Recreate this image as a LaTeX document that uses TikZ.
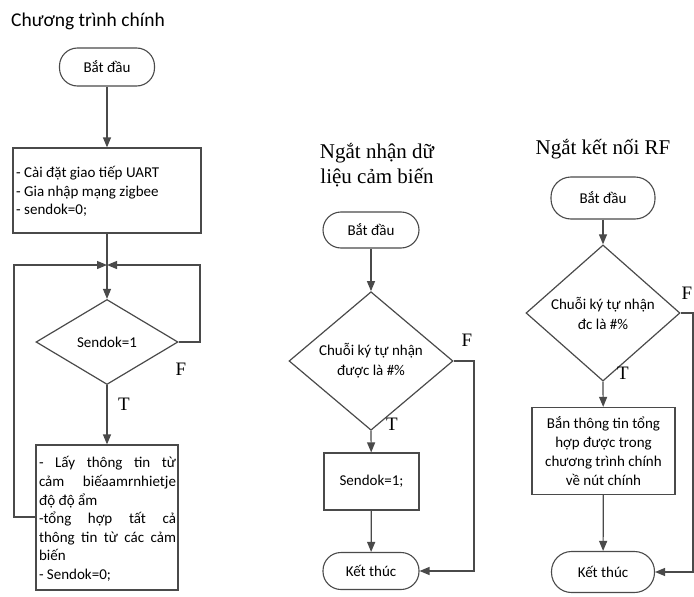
\documentclass[tikz,border=0pt]{standalone}
\usepackage{fontspec}
\setmainfont{Liberation Serif}
\newfontfamily\boxfont{Carlito}
\usetikzlibrary{shapes.geometric,arrows.meta}
\definecolor{ln}{HTML}{4A4A4A}
\tikzset{
  every node/.style={inner sep=0pt},
  line/.style={draw=ln,line width=1.2pt},
  arr/.style={line,-{Triangle[length=10pt,width=8pt]}},
  term/.style={draw=ln,line width=1.1pt,rounded corners=18pt,font=\boxfont\fontsize{15}{18}\selectfont,align=center},
  procbox/.style={draw=ln,line width=1.2pt,font=\boxfont\fontsize{15}{18}\selectfont},
  decision/.style={draw=ln,line width=1.2pt,diamond,font=\boxfont\fontsize{15}{20}\selectfont,align=center},
  title/.style={font=\fontsize{21}{25}\selectfont,align=center},
  tf/.style={font=\fontsize{19}{20}\selectfont}
}
\newcommand{\jline}[1]{\makebox[137pt][s]{#1}}
\begin{document}
\begin{tikzpicture}[x=1pt,y=-1pt]
\useasboundingbox (0,0) rectangle (694,597);
% ---------- main program ----------
\node[anchor=west,font=\boxfont\fontsize{19.5}{22}\selectfont] (t1) at (11,21) {Chương trình chính};
\node[term,minimum width=95pt,minimum height=38pt] (s1) at (107,67) {Bắt đầu};
\node[procbox,minimum width=188pt,minimum height=85pt] (b1) at (107,190.5) {};
\node[anchor=west,align=left,font=\boxfont\fontsize{15}{18.5}\selectfont] (b1t) at (16,191.5) {- Cài đặt giao tiếp UART\\- Gia nhập mạng zigbee\\- sendok=0;};
\coordinate (j) at (107,265);
\node[decision,minimum width=142pt,minimum height=85pt] (d1) at (107,342) {Sendok=1};
\node[procbox,minimum width=142pt,minimum height=145pt] (b2) at (107,517.5) {};
\node[align=left,font=\boxfont\fontsize{15}{18.6}\selectfont] (b2t) at (107.5,519) {\jline{- Lấy thông tin từ}\\\jline{cảm biếaamrnhietje}\\độ độ ẩm\\\jline{-tổng hợp tất cả}\\\jline{thông tin từ các cảm}\\biến\\- Sendok=0;};
\coordinate (l1) at (14,517);
\coordinate (l2) at (14,265);
\coordinate (r1) at (200,342);
\coordinate (r2) at (200,265);
\draw[arr] (s1) -- (b1);
\draw[line] (b1) -- (j);
\draw[arr] (j) -- (d1.north);
\draw[arr] (d1.south) -- (b2);
\draw[arr] (b2.west |- l1) -- (l1) -- (l2) -- (j);
\draw[arr] (d1.east) -- (r1) -- (r2) -- (j);
\node[tf] (f1) at (181,369) {F};
\node[tf] (tt1) at (124,404) {T};
% ---------- middle ----------
\node[title] (t2) at (377,165) {Ngắt nhận dữ\\liệu cảm biến};
\node[term,minimum width=96pt,minimum height=36pt] (s2) at (371,230) {Bắt đầu};
\node[decision,minimum width=164pt,minimum height=96pt] (d2) at (371,361) {Chuỗi ký tự nhận\\được là \#\%};
\node[procbox,minimum width=95pt,minimum height=57pt] (b3) at (371.5,481.5) {Sendok=1;};
\node[term,minimum width=96pt,minimum height=37pt] (e2) at (371,571) {Kết thúc};
\coordinate (m1) at (474,361);
\coordinate (m2) at (474,571);
\draw[arr] (s2) -- (d2.north);
\draw[arr] (d2.south) -- (b3);
\draw[arr] (b3) -- (e2);
\draw[arr] (d2.east) -- (m1) -- (m2) -- (e2.east);
\node[tf] (f2) at (467,340) {F};
\node[tf] (tt2) at (392,424) {T};
% ---------- right ----------
\node[title] (t3) at (603,149) {Ngắt kết nối RF};
\node[term,minimum width=104pt,minimum height=42pt,rounded corners=20pt] (s3) at (603,198) {Bắt đầu};
\node[decision,minimum width=154pt,minimum height=92pt] (d3) at (603,313) {Chuỗi ký tự nhận\\đc là \#\%};
\node[procbox,minimum width=143pt,minimum height=87pt,align=center,font=\boxfont\fontsize{15}{19}\selectfont] (b4) at (603.5,451) {Bắn thông tin tổng\\hợp được trong\\chương trình chính\\về nút chính};
\node[term,minimum width=103pt,minimum height=41pt,rounded corners=20pt] (e3) at (603,572) {Kết thúc};
\coordinate (q1) at (693,313);
\coordinate (q2) at (693,572);
\draw[arr] (s3) -- (d3.north);
\draw[arr] (d3.south) -- (b4);
\draw[arr] (b4) -- (e3);
\draw[arr] (d3.east) -- (q1) -- (q2) -- (e3.east);
\node[tf] (f3) at (687,293) {F};
\node[tf] (tt3) at (623,373) {T};
\end{tikzpicture}
\end{document}
